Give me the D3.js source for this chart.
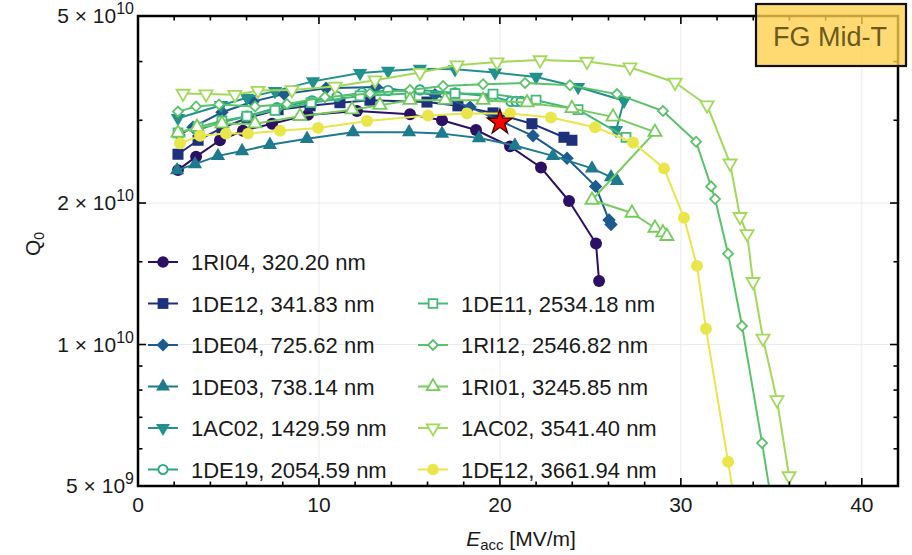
<!DOCTYPE html>
<html>
<head>
<meta charset="utf-8">
<script src="https://cdn.jsdelivr.net/npm/d3@7"></script>
<style>
  body { margin: 0; background: #fff; }
  svg { display: block; font-family: "Liberation Sans", Arial, sans-serif; }
</style>
</head>
<body>
<svg id="chart" width="912" height="555"></svg>
<script>
// Eacc in MV/m, Q0 in units of 1e10
const e_1RI04 = [2.21, 3.21, 4.53, 5.80, 7.41, 9.39, 12.10, 15.03, 16.80, 18.68, 20.56, 22.27, 23.82, 25.31, 25.48];
const q_1RI04 = [2.35, 2.51, 2.72, 2.85, 2.95, 3.08, 3.14, 3.09, 3.00, 2.86, 2.64, 2.38, 2.02, 1.64, 1.365];

const e_1DE12a = [2.21, 3.32, 4.64, 6.02, 7.74, 9.51, 11.16, 12.82, 15.97, 17.68, 19.62, 21.77, 23.54, 23.98];
const q_1DE12a = [2.54, 2.72, 2.89, 3.03, 3.16, 3.22, 3.27, 3.31, 3.28, 3.22, 3.11, 2.95, 2.76, 2.72];

const e_1DE04 = [2.27, 3.04, 4.64, 6.36, 8.07, 10.39, 13.15, 16.41, 18.35, 20.01, 21.83, 23.71, 25.29, 26.03, 26.14];
const q_1DE04 = [2.79, 2.90, 3.12, 3.29, 3.41, 3.51, 3.53, 3.40, 3.20, 2.99, 2.78, 2.49, 2.17, 1.84, 1.80];

const e_1DE03 = [2.16, 3.15, 4.42, 5.75, 7.29, 9.34, 11.88, 14.98, 16.80, 18.84, 20.83, 22.93, 25.09, 26.14, 26.47];
const q_1DE03 = [2.35, 2.42, 2.52, 2.58, 2.66, 2.74, 2.83, 2.83, 2.81, 2.75, 2.65, 2.52, 2.37, 2.27, 2.23];

const e_1AC02a = [2.21, 4.59, 6.02, 7.57, 9.67, 12.27, 13.82, 15.58, 17.52, 19.73, 22.00, 24.32, 26.86, 26.42];
const q_1AC02a = [3.03, 3.23, 3.35, 3.46, 3.63, 3.78, 3.82, 3.86, 3.85, 3.79, 3.71, 3.53, 3.30, 2.86];

const e_1DE19 = [3.26, 4.64, 6.02, 7.68, 9.62, 11.00, 12.38, 13.82, 15.58, 17.52, 19.56, 20.61, 20.89, 21.17];
const q_1DE19 = [2.86, 2.97, 3.06, 3.19, 3.30, 3.37, 3.43, 3.47, 3.48, 3.43, 3.37, 3.29, 3.29, 3.29];

const e_1DE11 = [2.21, 3.32, 4.64, 6.02, 7.57, 9.56, 12.27, 15.03, 17.52, 19.62, 22.00, 24.32, 26.97];
const q_1DE11 = [2.82, 2.90, 2.99, 3.06, 3.15, 3.27, 3.38, 3.42, 3.42, 3.41, 3.31, 3.16, 2.76];

const e_1RI12 = [2.21, 3.21, 4.48, 6.47, 8.23, 10.33, 12.82, 15.03, 16.86, 19.07, 21.39, 23.87, 26.47, 29.01, 30.84, 31.67, 31.89, 32.61, 33.38, 34.49, 35.04];
const q_1RI12 = [3.13, 3.21, 3.24, 3.21, 3.25, 3.36, 3.42, 3.48, 3.55, 3.58, 3.60, 3.56, 3.41, 3.14, 2.70, 2.17, 2.04, 1.56, 1.095, 0.617, 0.455];

const e_1RI01 = [2.21, 3.26, 4.64, 6.47, 8.95, 11.83, 13.37, 15.03, 16.97, 19.07, 21.50, 23.98, 26.25, 28.57, 25.09, 27.30, 28.57, 29.01, 29.23];
const q_1RI01 = [2.82, 2.90, 2.95, 2.95, 3.06, 3.16, 3.23, 3.31, 3.31, 3.31, 3.27, 3.18, 3.05, 2.83, 2.03, 1.905, 1.77, 1.73, 1.70];

const e_1AC02b = [2.49, 3.76, 5.36, 6.63, 8.51, 10.89, 13.10, 15.58, 17.63, 19.84, 22.22, 24.81, 27.19, 29.68, 31.45, 32.72, 33.27, 33.66, 33.99, 34.54, 35.31, 35.98];
const q_1AC02b = [3.42, 3.41, 3.40, 3.47, 3.48, 3.54, 3.65, 3.79, 3.93, 3.99, 4.03, 4.00, 3.89, 3.61, 3.23, 2.43, 1.87, 1.72, 1.36, 1.03, 0.762, 0.525];

const e_1DE12b = [2.32, 3.43, 4.86, 6.08, 7.85, 9.95, 12.66, 16.03, 18.18, 20.56, 22.82, 25.26, 27.36, 29.07, 30.17, 30.89, 31.39, 32.61, 33.00];
const q_1DE12b = [2.68, 2.78, 2.81, 2.81, 2.85, 2.89, 2.99, 3.07, 3.10, 3.10, 3.04, 2.90, 2.69, 2.37, 1.86, 1.47, 1.08, 0.563, 0.455];

const labels = ["1RI04, 320.20 nm", "1DE12, 341.83 nm", "1DE04, 725.62 nm", "1DE03, 738.14 nm",
  "1AC02, 1429.59 nm", "1DE19, 2054.59 nm", "1DE11, 2534.18 nm", "1RI12, 2546.82 nm",
  "1RI01, 3245.85 nm", "1AC02, 3541.40 nm", "1DE12, 3661.94 nm"];
const colors = ["#2b1064", "#1e2f7c", "#1d5b8e", "#1f7a8d", "#22918c", "#2aa884",
  "#45b87a", "#5bc26c", "#76cb5e", "#a3d95b", "#e8e64a"];
const markers = ["circle", "square", "diamond", "triUp", "triDown",
  "oCircle", "oSquare", "oDiamond", "oTriUp", "oTriDown", "circle"];

const xs = [e_1RI04, e_1DE12a, e_1DE04, e_1DE03, e_1AC02a, e_1DE19, e_1DE11, e_1RI12, e_1RI01, e_1AC02b, e_1DE12b];
const qs = [q_1RI04, q_1DE12a, q_1DE04, q_1DE03, q_1AC02a, q_1DE19, q_1DE11, q_1RI12, q_1RI01, q_1AC02b, q_1DE12b];

// reference point (star)
const starE = 20.0, starQ = 2.97;

const xMajor = [0, 10, 20, 30, 40];
const xMinor = d3.range(2, 42, 2).filter(v => v % 10 !== 0);
const yMajor = [5e9, 1e10, 2e10, 5e10];
const yMajorLab = [["5", "9"], ["1", "10"], ["2", "10"], ["5", "10"]];
const yMinor = [6e9, 7e9, 8e9, 9e9, 1.5e10, 3e10, 4e10];

const svg = d3.select("#chart");
const margin = { top: 16, right: 14, bottom: 69, left: 138 };
const width = 912, height = 555;
const x0 = margin.left, x1 = width - margin.right;
const y0 = height - margin.bottom, y1 = margin.top;

const xScale = d3.scaleLinear().domain([0, 42]).range([x0, x1]);
const yScale = d3.scaleLog().domain([5e9, 5e10]).range([y0, y1]);

// grid
const grid = svg.append("g").attr("stroke", "#ebebeb").attr("stroke-width", 1);
grid.selectAll("line.gx").data([10, 20, 30, 40]).join("line")
  .attr("x1", d => xScale(d)).attr("x2", d => xScale(d)).attr("y1", y0).attr("y2", y1);
grid.selectAll("line.gy").data([1e10, 2e10]).join("line")
  .attr("y1", d => yScale(d)).attr("y2", d => yScale(d)).attr("x1", x0).attr("x2", x1);

svg.append("clipPath").attr("id", "clip").append("rect")
  .attr("x", x0).attr("y", y1).attr("width", x1 - x0).attr("height", y0 - y1);

const markerDefs = {
  circle:   { sym: d3.symbolCircle,   size: 112, rot: 0,   open: false },
  square:   { sym: d3.symbolSquare,   size: 122, rot: 0,   open: false },
  diamond:  { sym: d3.symbolSquare,   size: 90,  rot: 45,  open: false },
  triUp:    { sym: d3.symbolTriangle, size: 88,  rot: 0,   open: false },
  triDown:  { sym: d3.symbolTriangle, size: 88,  rot: 180, open: false },
  oCircle:  { sym: d3.symbolCircle,   size: 70,  rot: 0,   open: true },
  oSquare:  { sym: d3.symbolSquare,   size: 80,  rot: 0,   open: true },
  oDiamond: { sym: d3.symbolSquare,   size: 50,  rot: 45,  open: true },
  oTriUp:   { sym: d3.symbolTriangle, size: 74,  rot: 0,   open: true },
  oTriDown: { sym: d3.symbolTriangle, size: 74,  rot: 180, open: true }
};

function addMarker(g, type, color, cx, cy, k) {
  const m = markerDefs[type];
  const p = g.append("path")
    .attr("d", d3.symbol().type(m.sym).size(m.size * (k || 1))())
    .attr("transform", `translate(${cx},${cy}) rotate(${m.rot})`);
  if (m.open) p.attr("fill", "#fff").attr("stroke", color).attr("stroke-width", 1.8);
  else p.attr("fill", color);
}

const line = d3.line().x(d => xScale(d[0])).y(d => yScale(d[1] * 1e10));
const plot = svg.append("g").attr("clip-path", "url(#clip)");

xs.forEach((ex, i) => {
  const pts = ex.map((e, j) => [e, qs[i][j]]);
  const g = plot.append("g");
  g.append("path").datum(pts).attr("d", line)
    .attr("fill", "none").attr("stroke", colors[i]).attr("stroke-width", 2)
    .attr("stroke-linejoin", "round");
  pts.forEach(p => addMarker(g, markers[i], colors[i], xScale(p[0]), yScale(p[1] * 1e10)));
});

// star
svg.append("path")
  .attr("d", d3.symbol().type(d3.symbolStar).size(190)())
  .attr("transform", `translate(${xScale(starE)},${yScale(starQ * 1e10)})`)
  .attr("fill", "#ff0000").attr("stroke", "#4a0000").attr("stroke-width", 1.4);

// frame + ticks
const ax = svg.append("g").attr("stroke", "#000");
ax.append("rect").attr("x", x0).attr("y", y1).attr("width", x1 - x0).attr("height", y0 - y1)
  .attr("fill", "none").attr("stroke-width", 2.5);
[[xMajor, 8], [xMinor, 4.5]].forEach(([vals, len]) => {
  vals.forEach(v => {
    const x = xScale(v);
    ax.append("line").attr("x1", x).attr("x2", x).attr("y1", y0).attr("y2", y0 - len).attr("stroke-width", 1.6);
    ax.append("line").attr("x1", x).attr("x2", x).attr("y1", y1).attr("y2", y1 + len).attr("stroke-width", 1.6);
  });
});
[[yMajor, 8], [yMinor, 4.5]].forEach(([vals, len]) => {
  vals.forEach(v => {
    const y = yScale(v);
    ax.append("line").attr("x1", x0).attr("x2", x0 + len).attr("y1", y).attr("y2", y).attr("stroke-width", 1.6);
    ax.append("line").attr("x1", x1).attr("x2", x1 - len).attr("y1", y).attr("y2", y).attr("stroke-width", 1.6);
  });
});

// tick labels
svg.append("g").selectAll("text").data(xMajor).join("text")
  .attr("x", d => xScale(d)).attr("y", 512)
  .attr("text-anchor", "middle").attr("font-size", 21).attr("fill", "#1a1a1a")
  .text(d => d);

yMajor.forEach((v, i) => {
  const t = svg.append("text").attr("x", 134).attr("y", yScale(v) + 7)
    .attr("text-anchor", "end").attr("font-size", 21).attr("fill", "#1a1a1a");
  t.append("tspan").text(yMajorLab[i][0] + "\u00a0\u00d7\u00a010");
  t.append("tspan").attr("dy", -9).attr("font-size", 16).text(yMajorLab[i][1]);
});

// axis titles
const xt = svg.append("text").attr("x", 521).attr("y", 546)
  .attr("text-anchor", "middle").attr("font-size", 21).attr("fill", "#1a1a1a");
xt.append("tspan").attr("font-style", "italic").text("E");
xt.append("tspan").attr("font-size", 15).attr("dy", 4).text("acc");
xt.append("tspan").attr("dy", -4).text(" [MV/m]");

const yt = svg.append("text").attr("transform", "translate(40,244) rotate(-90)")
  .attr("text-anchor", "middle").attr("font-size", 21).attr("fill", "#1a1a1a");
yt.append("tspan").text("Q");
yt.append("tspan").attr("font-size", 14).attr("dy", 4).text("0");

// legend
const leg = svg.append("g");
labels.forEach((lab, i) => {
  const col = i < 6 ? 0 : 1;
  const row = i < 6 ? i : i - 5;
  const lx = col === 0 ? 148 : 418;
  const ly = 262 + row * 41.5;
  leg.append("line").attr("x1", lx).attr("x2", lx + 30).attr("y1", ly).attr("y2", ly)
    .attr("stroke", colors[i]).attr("stroke-width", 2);
  addMarker(leg, markers[i], colors[i], lx + 15, ly, 0.95);
  leg.append("text").attr("x", lx + 43).attr("y", ly + 8)
    .attr("font-size", 22).attr("fill", "#1a1a1a").text(lab);
});

// FG Mid-T label box
svg.append("rect").attr("x", 756).attr("y", 4).attr("width", 150).attr("height", 62)
  .attr("fill", "#ffcf4c").attr("fill-opacity", 0.78)
  .attr("stroke", "#111").attr("stroke-width", 2.2);
svg.append("text").attr("x", 830).attr("y", 46).attr("text-anchor", "middle")
  .attr("font-size", 27).attr("fill", "#6a5a1e").text("FG Mid-T");
</script>
</body>
</html>
